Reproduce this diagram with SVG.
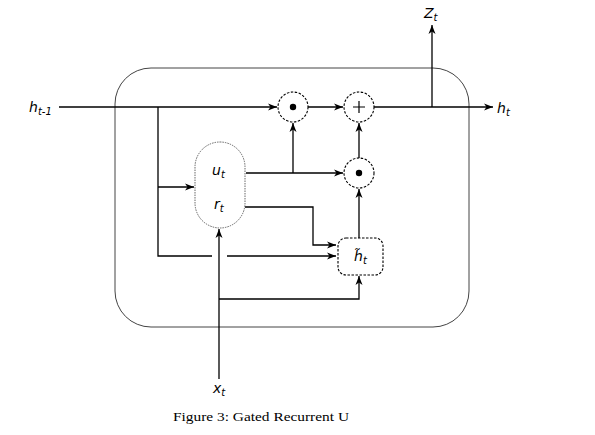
<svg xmlns="http://www.w3.org/2000/svg" width="595" height="435" viewBox="0 0 595 435">
<style>
.ln{fill:none;stroke:#000;stroke-width:1.3}
.op{fill:#fff;stroke:#000;stroke-width:1.1;stroke-dasharray:2.5,1.5}
.lbl{font-family:"DejaVu Sans",sans-serif;font-style:italic;font-size:14px;fill:#000}
.sub{font-size:10px}
</style>
<defs>
<marker id="ah" markerWidth="10" markerHeight="8" refX="9" refY="4" orient="auto" markerUnits="userSpaceOnUse">
<path d="M0,0.5 L9,4 L0,7.5 L2.5,4 Z" fill="#000"/>
</marker>
</defs>
<rect x="115" y="68" width="354" height="259" rx="36" ry="36" fill="none" stroke="#444" stroke-width="1"/>
<g id="connectors">
<path class="ln" d="M59,107 H277" marker-end="url(#ah)"/>
<path class="ln" d="M308,107 H343" marker-end="url(#ah)"/>
<path class="ln" d="M374,107 H493" marker-end="url(#ah)"/>
<path class="ln" d="M432,107 V25" marker-end="url(#ah)"/>
<path class="ln" d="M158,107 V256 H212"/>
<path class="ln" d="M158,187 H194" marker-end="url(#ah)"/>
<path class="ln" d="M227,256 H336" marker-end="url(#ah)"/>
<path class="ln" d="M246,173 H343" marker-end="url(#ah)"/>
<path class="ln" d="M293,173 V123" marker-end="url(#ah)"/>
<path class="ln" d="M245,207 H313 V245 H336" marker-end="url(#ah)"/>
<path class="ln" d="M359,238 V189" marker-end="url(#ah)"/>
<path class="ln" d="M359,158 V123" marker-end="url(#ah)"/>
<path class="ln" d="M219,379 V229" marker-end="url(#ah)"/>
<path class="ln" d="M219,299 H359 V276" marker-end="url(#ah)"/>
</g>
<g id="mul1">
<circle class="op" cx="293" cy="107" r="15"/>
<circle cx="293" cy="107" r="3.2" fill="#000"/>
</g>
<g id="add">
<circle class="op" cx="359" cy="107" r="15"/>
<path d="M353,107 H365 M359,101 V113" stroke="#000" stroke-width="1.2"/>
</g>
<g id="mul2">
<circle class="op" cx="359" cy="173" r="15"/>
<circle cx="359" cy="173" r="3.2" fill="#000"/>
</g>
<g id="gates">
<rect x="195" y="142" width="50" height="86" rx="25" ry="25" fill="#fff" stroke="#555" stroke-width="0.9" stroke-dasharray="1.5,1"/>
<text class="lbl" x="212" y="175">u<tspan class="sub" dy="3">t</tspan></text>
<text class="lbl" x="214" y="209">r<tspan class="sub" dy="3">t</tspan></text>
</g>
<g id="candidate">
<rect x="338" y="238" width="45" height="37" rx="8" ry="8" class="op"/>
<text class="lbl" x="354" y="261">h̃<tspan class="sub" dy="3">t</tspan></text>
</g>
<g id="labels">
<text class="lbl" x="29" y="112">h<tspan class="sub" dy="3">t-1</tspan></text>
<text class="lbl" x="497" y="113">h<tspan class="sub" dy="3">t</tspan></text>
<text class="lbl" x="424" y="18">Z<tspan class="sub" dy="3">t</tspan></text>
<text class="lbl" x="213" y="393">x<tspan class="sub" dy="3">t</tspan></text>
</g>
<text x="173" y="421" font-family="Liberation Serif, serif" font-size="12.5" textLength="176" lengthAdjust="spacingAndGlyphs" fill="#000">Figure 3: Gated Recurrent U</text>
</svg>
